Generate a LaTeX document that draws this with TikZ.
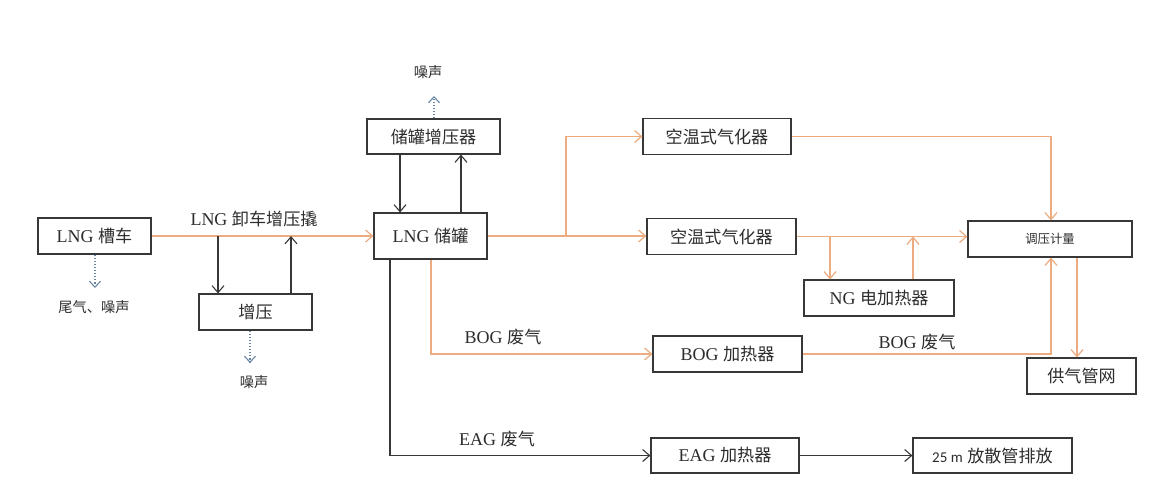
\documentclass[tikz,border=0pt]{standalone}
\usepackage{fontspec}
\setmainfont{Liberation Serif}
\newfontfamily\cjk{Noto Sans CJK SC}[Scale=0.95]
\newfontfamily\calib{Carlito}
\usetikzlibrary{arrows.meta}
\definecolor{og}{RGB}{236,172,128}
\definecolor{bk}{RGB}{55,55,55}
\definecolor{dt}{RGB}{105,135,165}
\definecolor{tx}{RGB}{45,45,45}
\newcommand\zh[1]{{\cjk #1}}
\begin{document}
\begin{tikzpicture}[x=1pt,y=-1pt,
  box/.style={draw=bk, line width=1.1pt, inner sep=0pt, text=tx, font=\fontsize{18}{20}\selectfont},
  lbl/.style={inner sep=0pt, text=tx, font=\fontsize{18}{20}\selectfont},
  sml/.style={inner sep=0pt, text=tx, font=\fontsize{15}{17}\selectfont},
  ol/.style={draw=og, line width=1.2pt},
  oa/.style={ol, -{Straight Barb[length=7pt,width=12pt]}},
  bl/.style={draw=bk, line width=1.1pt},
  ba/.style={bl, -{Straight Barb[length=7pt,width=12pt]}},
  da/.style={draw=dt, line width=1.1pt, dotted, -{Straight Barb[length=6pt,width=11pt]}}
]
\fill[white] (0,0) rectangle (1160,488);
\useasboundingbox (0,0) rectangle (1160,488);

% boxes
\node[box, minimum width=113pt, minimum height=36pt] (che) at (94.5,236) {LNG \zh{槽车}};
\node[box, minimum width=113pt, minimum height=36pt] (zy) at (255.5,312) {\zh{增压}};
\node[box, minimum width=133pt, minimum height=35pt] (cgq) at (433.5,136.5) {\zh{储罐增压器}};
\node[box, minimum width=113pt, minimum height=46pt] (cg) at (430.5,236) {LNG \zh{储罐}};
\node[box, minimum width=148pt, minimum height=36pt] (kq1) at (717,136.5) {\zh{空温式气化器}};
\node[box, minimum width=149pt, minimum height=36pt] (kq2) at (721.5,236.5) {\zh{空温式气化器}};
\node[box, minimum width=150pt, minimum height=36pt] (ng) at (879,298) {NG \zh{电加热器}};
\node[box, minimum width=164pt, minimum height=36pt, font=\fontsize{13}{15}\selectfont] (tyjl) at (1050,239) {\zh{调压计量}};
\node[box, minimum width=109pt, minimum height=36pt] (gqgw) at (1081.5,376) {\zh{供气管网}};
\node[box, minimum width=149pt, minimum height=36pt] (bog) at (727.5,354) {BOG \zh{加热器}};
\node[box, minimum width=148pt, minimum height=35pt] (eag) at (725,455.5) {EAG \zh{加热器}};
\node[box, minimum width=159pt, minimum height=35pt] (fs) at (992.5,455.5) {{\calib\fontsize{15}{18}\selectfont 25 m} \zh{放散管排放}};

% labels
\node[lbl] (lx) at (254,219) {LNG \zh{卸车增压撬}};
\node[sml] (wq) at (94,307) {\zh{尾气、噪声}};
\node[sml] (zs1) at (254,382) {\zh{噪声}};
\node[sml] (zs2) at (428,72) {\zh{噪声}};
\node[lbl] (bg1) at (503,337) {BOG \zh{废气}};
\node[lbl] (bg2) at (917,342) {BOG \zh{废气}};
\node[lbl] (eg) at (497,439) {EAG \zh{废气}};

% coordinates
\coordinate (a1) at (218,236);
\coordinate (a2) at (291,236);
\coordinate (b1) at (400,0);
\coordinate (b2) at (461,0);
\coordinate (n1) at (95,288);
\coordinate (n2) at (250,363);
\coordinate (n3) at (434,96);
\coordinate (c1) at (566,236);
\coordinate (c2) at (1051,0);
\coordinate (c3) at (830,236.5);
\coordinate (c4) at (913,236.5);
\coordinate (c5) at (431,354);
\coordinate (c6) at (1077,0);
\coordinate (c7) at (390,455.5);

% LNG truck line
\draw[oa] (che.east) -- (cg.west |- che.east);
\draw[ba] (a1) -- (a1 |- zy.north);
\draw[ba] (a2 |- zy.north) -- (a2);
\draw[da] (n1 |- che.south) -- (n1);
\draw[da] (n2 |- zy.south) -- (n2);

% tank booster
\draw[ba] (b1 |- cgq.south) -- (b1 |- cg.north);
\draw[ba] (b2 |- cg.north) -- (b2 |- cgq.south);
\draw[da] (n3 |- cgq.north) -- (n3);

% vaporisers
\draw[oa] (cg.east) -- (kq2.west |- cg.east);
\draw[oa] (c1) -- (c1 |- kq1.west) -- (kq1.west);
\draw[oa] (kq1.east) -- (c2 |- kq1.east) -- (c2 |- tyjl.north);
\draw[oa] (kq2.east) -- (tyjl.west |- kq2.east);
\draw[oa] (c3) -- (c3 |- ng.north);
\draw[oa] (c4 |- ng.north) -- (c4);

% BOG
\draw[oa] (c5 |- cg.south) -- (c5) -- (bog.west |- c5);
\draw[oa] (bog.east) -- (c2 |- bog.east) -- (c2 |- tyjl.south);
\draw[oa] (c6 |- tyjl.south) -- (c6 |- gqgw.north);

% EAG
\draw[ba] (c7 |- cg.south) -- (c7) -- (eag.west |- c7);
\draw[ba] (eag.east) -- (fs.west |- eag.east);
\end{tikzpicture}
\end{document}
